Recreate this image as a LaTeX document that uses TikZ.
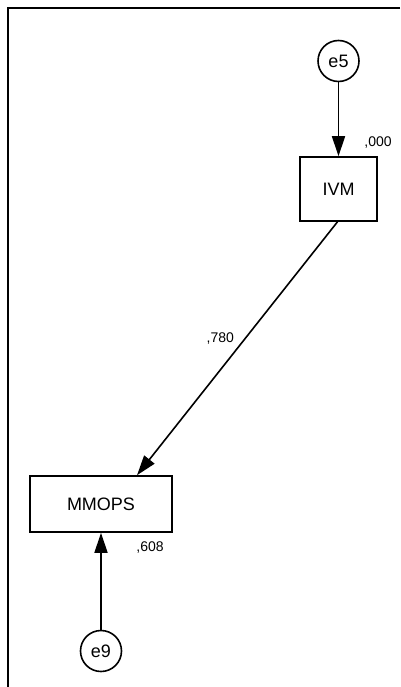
\documentclass[tikz,border=0pt]{standalone}
\usepackage{fontspec}
\setmainfont{Liberation Sans}
\usetikzlibrary{positioning, arrows.meta}

\begin{document}
\begin{tikzpicture}[x=1pt, y=-1pt, on grid, line width=1.6pt,
    obs/.style={draw, rectangle, inner sep=0pt, font=\fontsize{18}{21}\selectfont},
    err/.style={draw, circle, minimum size=41pt, inner sep=0pt, font=\fontsize{18}{21}\selectfont},
    est/.style={inner sep=0pt, font=\fontsize{14}{16}\selectfont},
    path/.style={-{Triangle[length=20pt, width=13pt]}}]
    \useasboundingbox (0,0) rectangle (400,687);
    % frame
    \draw[line width=1.8pt] (400,8) -- (8,8) -- (8,687);

    % observed variables
    \node[obs, minimum width=77pt, minimum height=64pt] (ivm) at (338.5,189) {IVM};
    \node[obs, minimum width=142pt, minimum height=56pt] (mmops) at (101,504) {MMOPS};

    % error terms
    \node[err, above=128pt of ivm] (e5) {e5};
    \node[err, below=147pt of mmops] (e9) {e9};

    % estimates
    \node[est] (r2ivm) at (378,143) {,000};
    \node[est] (r2mmops) at (150,548) {,608};

    % end points of the regression path
    \coordinate (ivmout) at ([xshift=-1pt]ivm.south);
    \coordinate (mmopsin) at ([xshift=36pt]mmops.north);

    \path[path]
        (e5) edge (ivm)
        (e9) edge (mmops)
        (ivmout) edge node[est, pos=0.46, xshift=-25pt] {,780} (mmopsin);
\end{tikzpicture}
\end{document}
